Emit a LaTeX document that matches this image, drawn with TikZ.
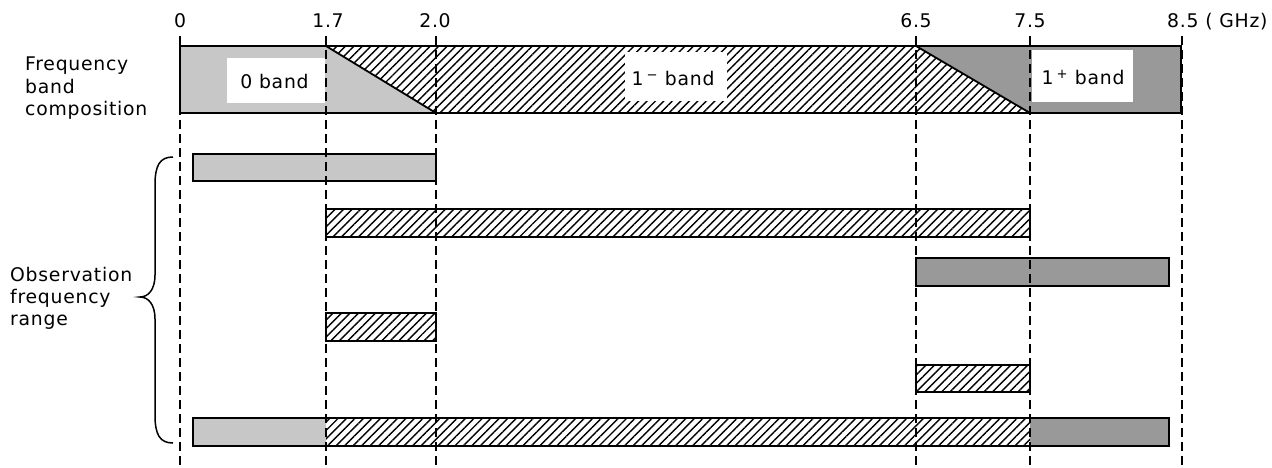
\documentclass[tikz,border=0pt]{standalone}
\usepackage{fontspec}
\setmainfont{DejaVu Sans}[LetterSpace=4]
\usetikzlibrary{patterns.meta}
\begin{document}
\begin{tikzpicture}[x=1pt,y=-1pt,
  lbl/.style={font=\fontsize{18.8}{21}\selectfont, inner sep=0pt},
  dotl/.style={fill=black!22},
  dotd/.style={fill=black!40},
  hat/.style={pattern={Lines[angle=45,distance=6pt,line width=1.4pt]}},
  barline/.style={line width=2pt},
  guide/.style={line width=1.7pt, dash pattern=on 9pt off 5pt}]
\useasboundingbox (0,0) rectangle (1272,468);
% ---- band composition strip
\path[dotl] (180,46) rectangle (326,113);
\path[dotl] (326,46) -- (436,113) -- (326,113) -- cycle;
\path[hat] (326,46) -- (916,46) -- (1030,113) -- (436,113) -- cycle;
\path[dotd] (916,46) -- (1181,46) -- (1181,113) -- (1030,113) -- cycle;
\draw[line width=1.8pt] (326,46) -- (436,113);
\draw[line width=1.8pt] (916,46) -- (1030,113);
\draw[line width=2pt] (180,46) rectangle (1181,113);
\fill[white] (227,58) rectangle (325,103);
\fill[white] (625,52) rectangle (727,101);
\fill[white] (1032,50) rectangle (1133,102);
\node[lbl,anchor=base] (b0) at (274.5,89) {0 band};
\node[lbl,anchor=base] (bm) at (673,86) {1\,\textsuperscript{−} band};
\node[lbl,anchor=base] (bp) at (1083,85) {1\,\textsuperscript{+} band};
% ---- tick labels
\node[lbl,anchor=base] (t0) at (180,28) {0};
\node[lbl,anchor=base] (t17) at (328,28) {1.7};
\node[lbl,anchor=base] (t20) at (435,28) {2.0};
\node[lbl,anchor=base] (t65) at (916,28) {6.5};
\node[lbl,anchor=base] (t75) at (1030,28) {7.5};
\node[lbl,anchor=base west] (t85) at (1167,28) {8.5 ( GHz)};
% ---- left labels
\node[lbl,anchor=base west] (f1) at (25,71) {Frequency};
\node[lbl,anchor=base west] (f2) at (25,93.5) {band};
\node[lbl,anchor=base west] (f3) at (25,116) {composition};
\node[lbl,anchor=base west] (o1) at (10,281) {Observation};
\node[lbl,anchor=base west] (o2) at (10,303) {frequency};
\node[lbl,anchor=base west] (o3) at (10,325) {range};
% ---- brace
\draw[line width=1.5pt] (173,157) .. controls (160,157) and (155,165) .. (155,185)
  -- (155,275) .. controls (155,290) and (148,297) .. (140,297)
  .. controls (148,297) and (155,304) .. (155,319)
  -- (155,415) .. controls (155,435) and (160,443) .. (173,443);
% ---- observation bars
\path[dotl] (193,154) rectangle (436,181);
\draw[barline] (193,154) rectangle (436,181);
\path[hat] (326,209) rectangle (1030,237);
\draw[barline] (326,209) rectangle (1030,237);
\path[dotd] (916,258) rectangle (1169,286);
\draw[barline] (916,258) rectangle (1169,286);
\path[hat] (326,313) rectangle (436,341);
\draw[barline] (326,313) rectangle (436,341);
\path[hat] (916,365) rectangle (1030,392);
\draw[barline] (916,365) rectangle (1030,392);
\path[dotl] (193,418) rectangle (326,446);
\path[hat] (326,418) rectangle (1030,446);
\path[dotd] (1030,418) rectangle (1169,446);
\draw[barline] (193,418) rectangle (1169,446);
% ---- dashed guide lines
\foreach \gx in {180,326,436,916,1030,1182} {
  \draw[guide] (\gx,36) -- (\gx,468);
}
\end{tikzpicture}
\end{document}
